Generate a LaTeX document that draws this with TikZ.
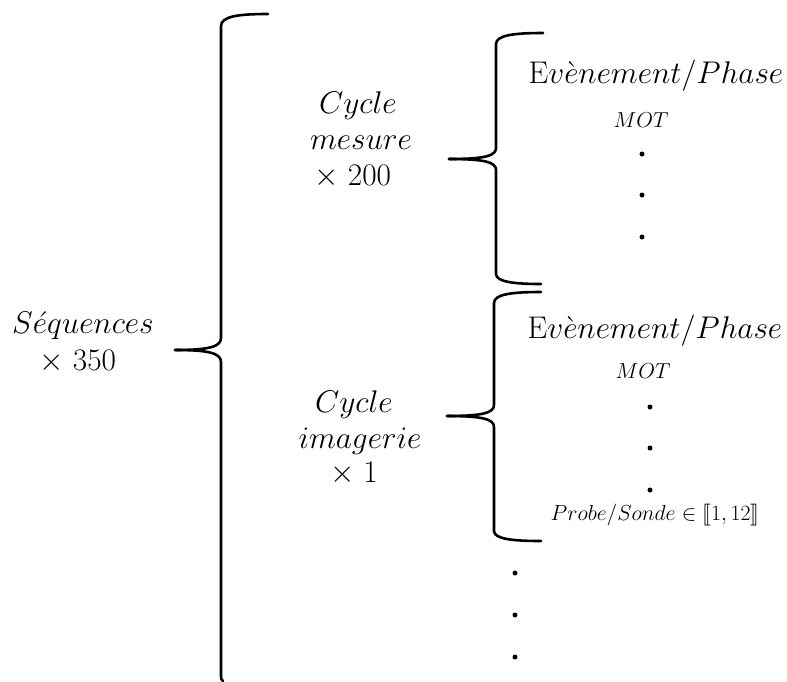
\documentclass[tikz,border=0pt]{standalone}
\usepackage{stmaryrd}
\begin{document}
\begin{tikzpicture}[x=1pt,y=-1pt,
  brace/.style={line width=2.6pt,line cap=round,line join=round},
  big/.style={anchor=base,inner sep=0pt,font=\fontsize{24.88}{25}\selectfont,scale=1.26},
  small/.style={anchor=base,inner sep=0pt,font=\fontsize{17.28}{18}\selectfont,scale=1.25},
  probe/.style={anchor=base,inner sep=0pt,font=\fontsize{20.74}{21}\selectfont,scale=1.05},
  dotn/.style={circle,fill=black,inner sep=0pt,minimum size=5pt}]
\useasboundingbox (0,0) rectangle (787,681);
% big brace
\coordinate (b0t) at (268,14);
\coordinate (b0m) at (175,350);
\coordinate (b0b) at (223,681);
\draw[brace] (b0t) .. controls (240,14) and (221,16) .. (221,26) -- (221,338)
  .. controls (221,347) and (208,350) .. (b0m);
\draw[brace] (b0m) .. controls (208,350) and (221,353) .. (221,362) -- (221,676)
  .. controls (221,679) .. (b0b);
% brace 1
\coordinate (b1t) at (543,33);
\coordinate (b1m) at (449,159);
\coordinate (b1b) at (541,284);
\draw[brace] (b1t) .. controls (515,33) and (496,35) .. (496,44) -- (496,148)
  .. controls (496,156) and (484,159) .. (b1m);
\draw[brace] (b1m) .. controls (484,159) and (496,162) .. (496,170) -- (496,274)
  .. controls (496,282) and (515,284) .. (b1b);
% brace 2
\coordinate (b2t) at (541,292);
\coordinate (b2m) at (447,416);
\coordinate (b2b) at (541,541);
\draw[brace] (b2t) .. controls (513,292) and (494,294) .. (494,303) -- (494,405)
  .. controls (494,413) and (482,416) .. (b2m);
\draw[brace] (b2m) .. controls (482,416) and (494,419) .. (494,427) -- (494,531)
  .. controls (494,539) and (513,541) .. (b2b);
% texts
\node[big] (seq) at (83,333) {$S\acute{e}quences$};
\node[big] (n350) at (78,370) {${\times}\;350$};
\node[big] (c1) at (358,113) {$Cycle$};
\node[big] (mes) at (361,149) {$mesure$};
\node[big] (n200) at (353,185) {${\times}\;200$};
\node[big] (c2) at (354,412) {$Cycle$};
\node[big] (ima) at (360,448) {$imagerie$};
\node[big] (n1) at (354,482) {${\times}\;1$};
\node[big] (ev1) at (656,83) {$\mathrm{E}v\grave{e}nement/Phase$};
\node[big] (ev2) at (655,338) {$\mathrm{E}v\grave{e}nement/Phase$};
\node[small] (mot1) at (641,127) {$MOT$};
\node[small] (mot2) at (643,378) {$MOT$};
\node[probe] (prb) at (655,520) {$Probe/Sonde \in \llbracket 1,12\rrbracket$};
% dots
\node[dotn] (d11) at (642,154) {};
\node[dotn] (d12) at (642,195) {};
\node[dotn] (d13) at (642,237) {};
\node[dotn] (d21) at (650,407) {};
\node[dotn] (d22) at (650,448) {};
\node[dotn] (d23) at (650,490) {};
\node[dotn] (d31) at (515,573) {};
\node[dotn] (d32) at (515,615) {};
\node[dotn] (d33) at (515,657) {};
\end{tikzpicture}
\end{document}
